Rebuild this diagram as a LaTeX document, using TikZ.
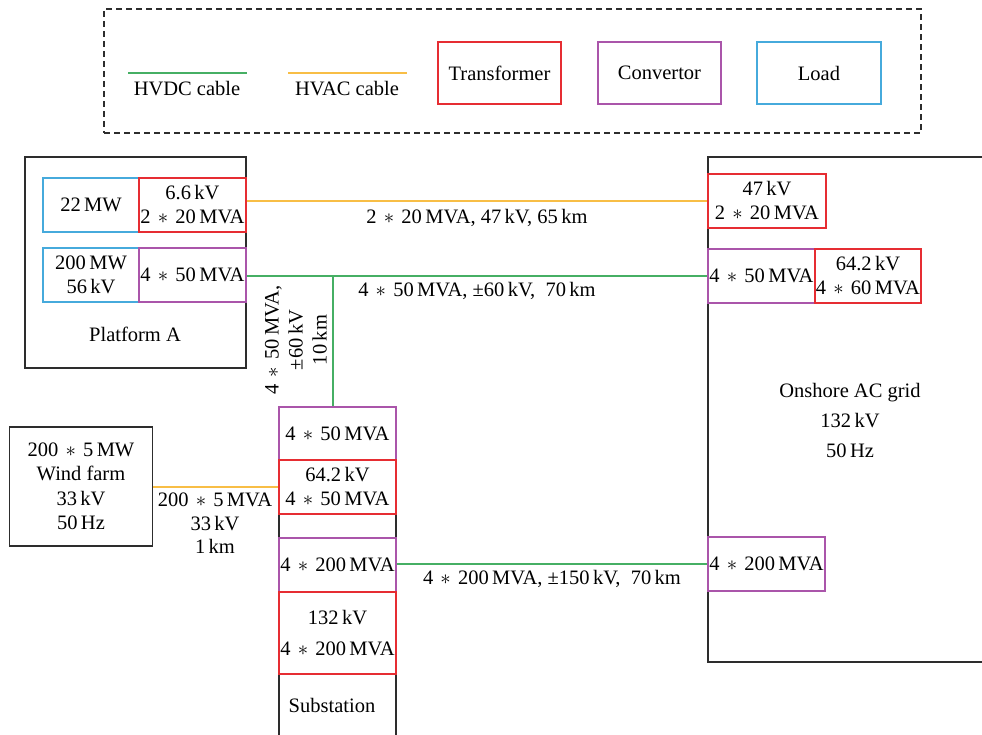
\documentclass[tikz,border=0pt]{standalone}
\usepackage{fontspec}
\setmainfont{Liberation Serif}
\definecolor{hvdcgreen}{RGB}{70,175,100}
\definecolor{hvacyellow}{RGB}{248,190,70}
\definecolor{trred}{RGB}{230,45,50}
\definecolor{cvpurple}{RGB}{170,85,170}
\definecolor{ldblue}{RGB}{70,170,220}
\definecolor{framegray}{RGB}{45,45,45}
\newcommand\mulop{\hspace{0.35em}$\ast$\hspace{0.35em}}
\begin{document}
\begin{tikzpicture}[x=1pt,y=-1pt,
  every node/.style={font=\fontsize{20.5}{24}\selectfont},
  box/.style={draw, line width=1.2pt, inner sep=1pt, align=center},
  trbox/.style={box, draw=trred},
  cvbox/.style={box, draw=cvpurple},
  ldbox/.style={box, draw=ldblue},
  frm/.style={draw=framegray, line width=1.2pt},
  hvdc/.style={draw=hvdcgreen, line width=1.3pt},
  hvac/.style={draw=hvacyellow, line width=1.3pt},
  lbl/.style={inner sep=0pt, align=center}]
\useasboundingbox (0,0) rectangle (982,735);

% legend
\node[draw=framegray, line width=1.1pt, dash pattern=on 6pt off 4pt, minimum width=817pt, minimum height=124pt, inner sep=0pt] (legend) at (512.5,71) {};
\coordinate (dcA) at (128,73);
\coordinate (dcB) at (247,73);
\draw[hvdc] (dcA) -- (dcB);
\node[lbl] (dctext) at (187,89) {HVDC cable};
\coordinate (acA) at (288,73);
\coordinate (acB) at (407,73);
\draw[hvac] (acA) -- (acB);
\node[lbl] (actext) at (347,89) {HVAC cable};
\node[trbox, minimum width=123pt, minimum height=62pt] (legtr) at (499.5,73) {Transformer};
\node[cvbox, minimum width=123pt, minimum height=62pt] (legcv) at (659.5,73) {Convertor};
\node[ldbox, minimum width=124pt, minimum height=62pt] (legld) at (819,73) {Load};

% Platform A
\node[frm, inner sep=0pt, minimum width=221pt, minimum height=211pt] (plat) at (135.5,262.5) {};
\node[lbl] (plattext) at (135,334) {Platform A};
\node[ldbox, minimum width=96pt, minimum height=54pt] (pald1) at (91,205) {22\,MW};
\node[trbox, minimum width=107pt, minimum height=54pt] (patr) at (192.5,205) {6.6\,kV\\2\mulop20\,MVA};
\node[ldbox, minimum width=96pt, minimum height=54pt] (pald2) at (91,275) {200\,MW\\56\,kV};
\node[cvbox, minimum width=107pt, minimum height=54pt] (pacv) at (192.5,275) {4\mulop50\,MVA};

% Onshore AC grid
\draw[frm] (990,157) -- (708,157) -- (708,662) -- (990,662);
\node[lbl, font=\fontsize{20.5}{30}\selectfont] (onshore) at (850,420) {Onshore AC grid\\132\,kV\\50\,Hz};
\node[trbox, minimum width=118pt, minimum height=54pt] (ontr1) at (767,201) {47\,kV\\2\mulop20\,MVA};
\node[cvbox, minimum width=107pt, minimum height=54pt] (oncv1) at (761.5,276) {4\mulop50\,MVA};
\node[trbox, minimum width=106pt, minimum height=54pt] (ontr2) at (868,276) {64.2\,kV\\4\mulop60\,MVA};
\node[cvbox, minimum width=117pt, minimum height=54pt] (oncv2) at (766.5,564) {4\mulop200\,MVA};

% Wind farm
\node[frm, align=center, inner sep=1pt, minimum width=143pt, minimum height=119pt, font=\fontsize{20.5}{24.5}\selectfont] (wf) at (81,486.5) {200\mulop5\,MW\\Wind farm\\33\,kV\\50\,Hz};

% Substation
\draw[frm] (279,407) -- (279,740);
\draw[frm] (396,407) -- (396,740);
\node[cvbox, minimum width=117pt, minimum height=53pt] (subcv1) at (337.5,433.5) {4\mulop50\,MVA};
\node[trbox, minimum width=117pt, minimum height=54pt] (subtr1) at (337.5,487) {64.2\,kV\\4\mulop50\,MVA};
\node[cvbox, minimum width=117pt, minimum height=54pt] (subcv2) at (337.5,565) {4\mulop200\,MVA};
\node[trbox, minimum width=117pt, minimum height=82pt, font=\fontsize{20.5}{31}\selectfont] (subtr2) at (337.5,633) {132\,kV\\4\mulop200\,MVA};
\node[lbl] (subtext) at (332,705) {Substation};

% cables
\draw[hvac] (patr.east |- ontr1.west) -- (ontr1.west);
\draw[hvdc] (pacv.east |- oncv1.west) -- (oncv1.west);
\coordinate (junc) at (333,276);
\draw[hvdc] (junc) -- (junc |- subcv1.north);
\draw[hvac] (wf.east |- subtr1.west) -- (subtr1.west);
\draw[hvdc] (subcv2.east |- oncv2.west) -- (oncv2.west);

% cable labels
\node[lbl] (lab1) at (477,218) {2\mulop20\,MVA, 47\,kV, 65\,km};
\node[lbl] (lab2) at (477,291) {4\mulop50\,MVA, ±60\,kV,\ \ 70\,km};
\node[lbl, rotate=90] (lab3) at (296,340) {4\mulop50\,MVA,\\±60\,kV\\10\,km};
\node[lbl, font=\fontsize{20.5}{23.5}\selectfont] (lab4) at (215,523.5) {200\mulop5\,MVA\\33\,kV\\1\,km};
\node[lbl] (lab5) at (552,579) {4\mulop200\,MVA, ±150\,kV,\ \ 70\,km};
\end{tikzpicture}
\end{document}
